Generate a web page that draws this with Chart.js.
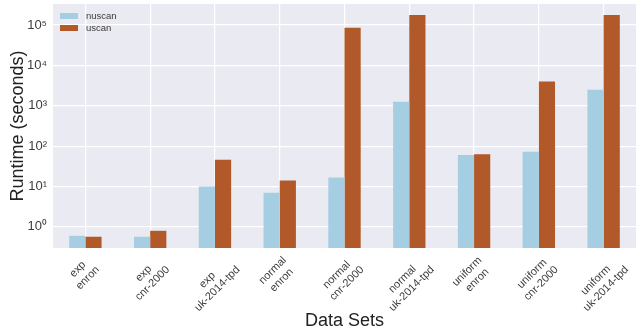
<!DOCTYPE html>
<html>
<head>
<meta charset="utf-8">
<script src="https://cdn.jsdelivr.net/npm/chart.js@4"></script>
<style>
  body { margin: 0; background: #fff; }
  #wrap { width: 641px; height: 333px; }
</style>
</head>
<body>
<div id="wrap"><canvas id="chart"></canvas></div>
<script>
// data
const categories = [
  ['exp', 'enron'], ['exp', 'cnr-2000'], ['exp', 'uk-2014-tpd'],
  ['normal', 'enron'], ['normal', 'cnr-2000'], ['normal', 'uk-2014-tpd'],
  ['uniform', 'enron'], ['uniform', 'cnr-2000'], ['uniform', 'uk-2014-tpd']
];
const nuscan = [0.6, 0.57, 10, 7, 16.7, 1250, 60, 72, 2480];
const uscan = [0.57, 0.8, 46, 14, 85000, 177000, 63, 4000, 177000];
const yTicks = [1, 10, 100, 1000, 10000, 100000];
const yTickLabels = ['10⁰', '10¹', '10²', '10³', '10⁴', '10⁵'];

const FONT = '"Liberation Sans", Arial, sans-serif';
const TXT = '#3c3c3c';
const X_FONT = '11px ' + FONT;

// rotated labels in Chart.js are right aligned; pad the short line with
// trailing spaces so the two lines look centred like the original
const measureCtx = document.createElement('canvas').getContext('2d');
measureCtx.font = X_FONT;
const textW = (s) => measureCtx.measureText(s).width;
const centreLines = (lines) => {
  const w = lines.map(textW);
  const maxW = Math.max(...w);
  const sp = textW(' ');
  return lines.map((s, i) => s + ' '.repeat(Math.round((maxW - w[i]) / 2 / sp)));
};

// matplotlib centres the rotated label box on the tick, so longer labels
// sit further right; nudge chart.js' label items the same way
const xLabelShift = {
  id: 'xLabelShift',
  beforeDraw(chart) {
    chart.scales.x.getLabelItems().forEach((item, i) => {
      if (item._shifted) return;
      const w = Math.max(...categories[i].map(textW));
      item.options.translation[0] += 0.354 * w - 7;
      item._shifted = true;
    });
  }
};

// gray plot background (seaborn darkgrid look)
const bgPlugin = {
  id: 'bg',
  beforeDraw(chart) {
    const { ctx, chartArea: a } = chart;
    ctx.save();
    ctx.fillStyle = '#eaeaf2';
    ctx.fillRect(a.left, a.top, a.right - a.left, a.bottom - a.top);
    ctx.restore();
  }
};

// legend drawn inside the top-left corner of the plot
const innerLegend = {
  id: 'innerLegend',
  afterDraw(chart) {
    const { ctx, chartArea: a } = chart;
    ctx.save();
    ctx.font = '9.5px ' + FONT;
    ctx.textBaseline = 'middle';
    chart.data.datasets.forEach((ds, i) => {
      const y = a.top + 12 + i * 12;
      ctx.fillStyle = ds.backgroundColor;
      ctx.fillRect(a.left + 7, y - 3, 18, 6);
      ctx.fillStyle = TXT;
      ctx.fillText(ds.label, a.left + 33, y);
    });
    ctx.restore();
  }
};

new Chart(document.getElementById('chart'), {
  type: 'bar',
  data: {
    labels: categories,
    datasets: [
      { label: 'nuscan', data: nuscan, backgroundColor: '#a6cee3' },
      { label: 'uscan', data: uscan, backgroundColor: '#b15928' }
    ]
  },
  options: {
    responsive: true,
    maintainAspectRatio: false,
    animation: false,
    layout: { padding: { top: 4, right: 5, left: 7, bottom: 0 } },
    datasets: { bar: { categoryPercentage: 0.5, barPercentage: 1.0 } },
    plugins: { legend: { display: false }, tooltip: { enabled: false } },
    scales: {
      x: {
        grid: { color: '#ffffff', lineWidth: 1.2, offset: false, drawTicks: false },
        border: { display: false },
        ticks: {
          color: TXT,
          font: { family: FONT, size: 11 },
          maxRotation: 45, minRotation: 45,
          labelOffset: 0,
          padding: 6,
          callback(v, i) { return centreLines(categories[i]); }
        },
        title: {
          display: true, text: 'Data Sets', color: '#222',
          font: { family: FONT, size: 18 }, padding: { top: 0, bottom: 1 }
        },
        afterFit(scale) { scale.height = 85; }
      },
      y: {
        type: 'logarithmic',
        min: 0.3, max: 330000,
        grid: { color: '#ffffff', lineWidth: 1.2, drawTicks: false },
        border: { display: false },
        afterBuildTicks(scale) { scale.ticks = yTicks.map(v => ({ value: v })); },
        ticks: {
          color: TXT,
          font: { family: FONT, size: 13 },
          padding: 6,
          callback: (v) => yTickLabels[yTicks.indexOf(v)]
        },
        title: {
          display: true, text: 'Runtime (seconds)', color: '#222',
          font: { family: FONT, size: 18 }, padding: { top: 0, bottom: 2 }
        },
        afterFit(scale) {
          scale.width = 46;
          scale.paddingTop = 0;
          scale.paddingBottom = 0;
        }
      }
    }
  },
  plugins: [bgPlugin, xLabelShift, innerLegend]
});
</script>
</body>
</html>
